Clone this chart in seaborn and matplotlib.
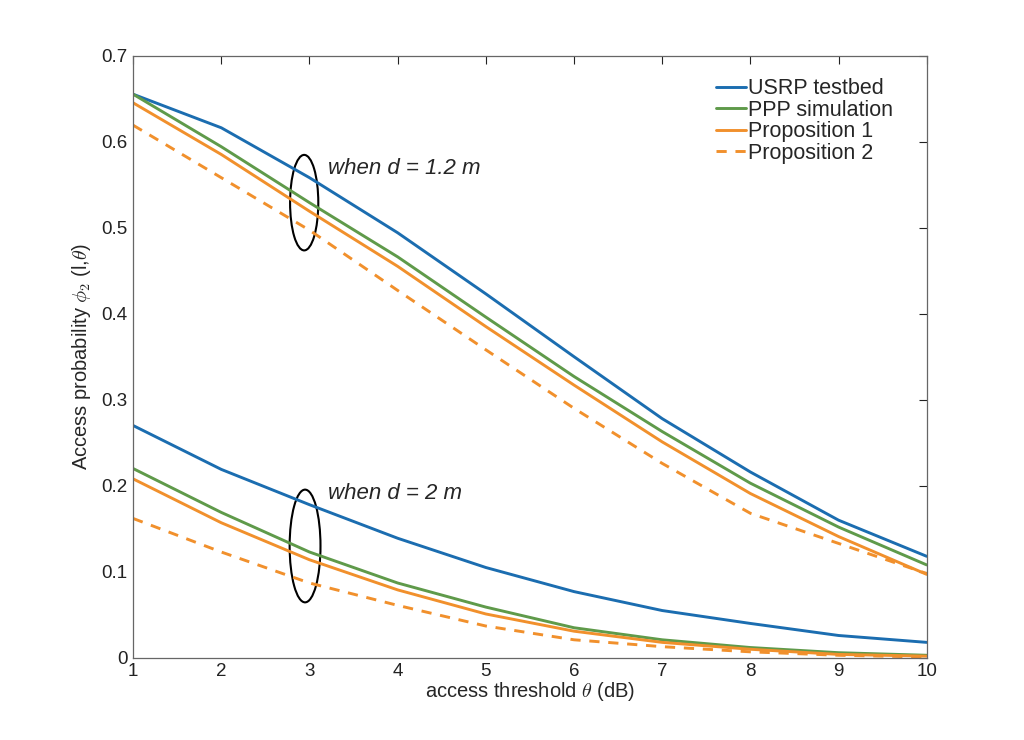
import numpy as np
import pandas as pd
import matplotlib
matplotlib.use("Agg")
import matplotlib.pyplot as plt
from matplotlib.patches import Ellipse
import seaborn as sns

theta = [1, 2, 3, 4, 5, 6, 7, 8, 9, 10]

# d = 1.2 m
usrp_12 = [0.655, 0.616, 0.558, 0.494, 0.423, 0.350, 0.278, 0.216, 0.160, 0.118]
ppp_12 = [0.655, 0.594, 0.529, 0.466, 0.396, 0.327, 0.263, 0.203, 0.152, 0.108]
prop1_12 = [0.645, 0.585, 0.519, 0.455, 0.385, 0.317, 0.251, 0.191, 0.141, 0.097]
prop2_12 = [0.619, 0.558, 0.497, 0.427, 0.358, 0.290, 0.226, 0.168, 0.133, 0.098]

# d = 2 m
usrp_2 = [0.270, 0.219, 0.178, 0.139, 0.105, 0.077, 0.055, 0.040, 0.026, 0.018]
ppp_2 = [0.220, 0.169, 0.123, 0.087, 0.059, 0.035, 0.021, 0.012, 0.006, 0.003]
prop1_2 = [0.208, 0.157, 0.114, 0.079, 0.051, 0.031, 0.018, 0.010, 0.004, 0.002]
prop2_2 = [0.162, 0.123, 0.087, 0.061, 0.037, 0.021, 0.013, 0.007, 0.003, 0.001]

series_names = ["USRP testbed", "PPP simulation", "Proposition 1", "Proposition 2"]
colors = {"USRP testbed": "#1b6db0", "PPP simulation": "#5f9a4a",
          "Proposition 1": "#f1902c", "Proposition 2": "#f1902c"}

rows = []
for name, v12, v2 in zip(series_names,
                         [usrp_12, ppp_12, prop1_12, prop2_12],
                         [usrp_2, ppp_2, prop1_2, prop2_2]):
    for t, a, b in zip(theta, v12, v2):
        rows.append({"theta": t, "prob": a, "series": name, "d": "1.2"})
        rows.append({"theta": t, "prob": b, "series": name, "d": "2"})
df = pd.DataFrame(rows)

sns.set_style("white")
plt.rcParams["font.family"] = ["Liberation Sans", "DejaVu Sans"]
plt.rcParams["mathtext.fontset"] = "cm"

fig = plt.figure(figsize=(10.24, 7.4), dpi=100)
ax = fig.add_axes([0.130, 0.111, 0.775, 0.814])

for name in series_names:
    sub = df[df["series"] == name]
    for i, (dval, g) in enumerate(sub.groupby("d")):
        sns.lineplot(data=g, x="theta", y="prob", ax=ax, color=colors[name],
                     linewidth=2.1, label=name if i == 0 else None,
                     estimator=None, sort=True)
        if name == "Proposition 2":
            ax.lines[-1].set_dashes((3.5, 3))

ax.set_xlim(1, 10)
ax.set_ylim(0, 0.7)
ax.set_xticks(theta)
ax.set_yticks([0, 0.1, 0.2, 0.3, 0.4, 0.5, 0.6, 0.7])
ax.set_yticklabels(["0", "0.1", "0.2", "0.3", "0.4", "0.5", "0.6", "0.7"])
ax.tick_params(direction="in", length=6, width=0.8, top=True, right=True,
               labelsize=13.5, colors="#222222", pad=4)
for s in ax.spines.values():
    s.set_color("#666666")
    s.set_linewidth(0.9)

ax.set_xlabel(r"access threshold $\theta$ (dB)", fontsize=14.5, labelpad=0)
ax.set_ylabel(r"Access probability $\phi_2$ (l,$\theta$)", fontsize=14.5, labelpad=6)

ax.add_patch(Ellipse((2.94, 0.529), 0.32, 0.111, fill=False, lw=1.5, ec="black"))
ax.add_patch(Ellipse((2.95, 0.130), 0.35, 0.131, fill=False, lw=1.5, ec="black"))
ax.text(3.21, 0.569, "when d = 1.2 m", fontsize=16, style="italic", va="center")
ax.text(3.21, 0.191, "when d = 2 m", fontsize=16, style="italic", va="center")

leg = ax.legend(loc="upper right", frameon=False, fontsize=15.5, handlelength=1.4,
                handletextpad=0.1, labelspacing=0.02, borderaxespad=0.3,
                bbox_to_anchor=(0.977, 0.987))
for h in leg.get_lines():
    h.set_linewidth(2.1)

fig.savefig("out.png", dpi=100)
